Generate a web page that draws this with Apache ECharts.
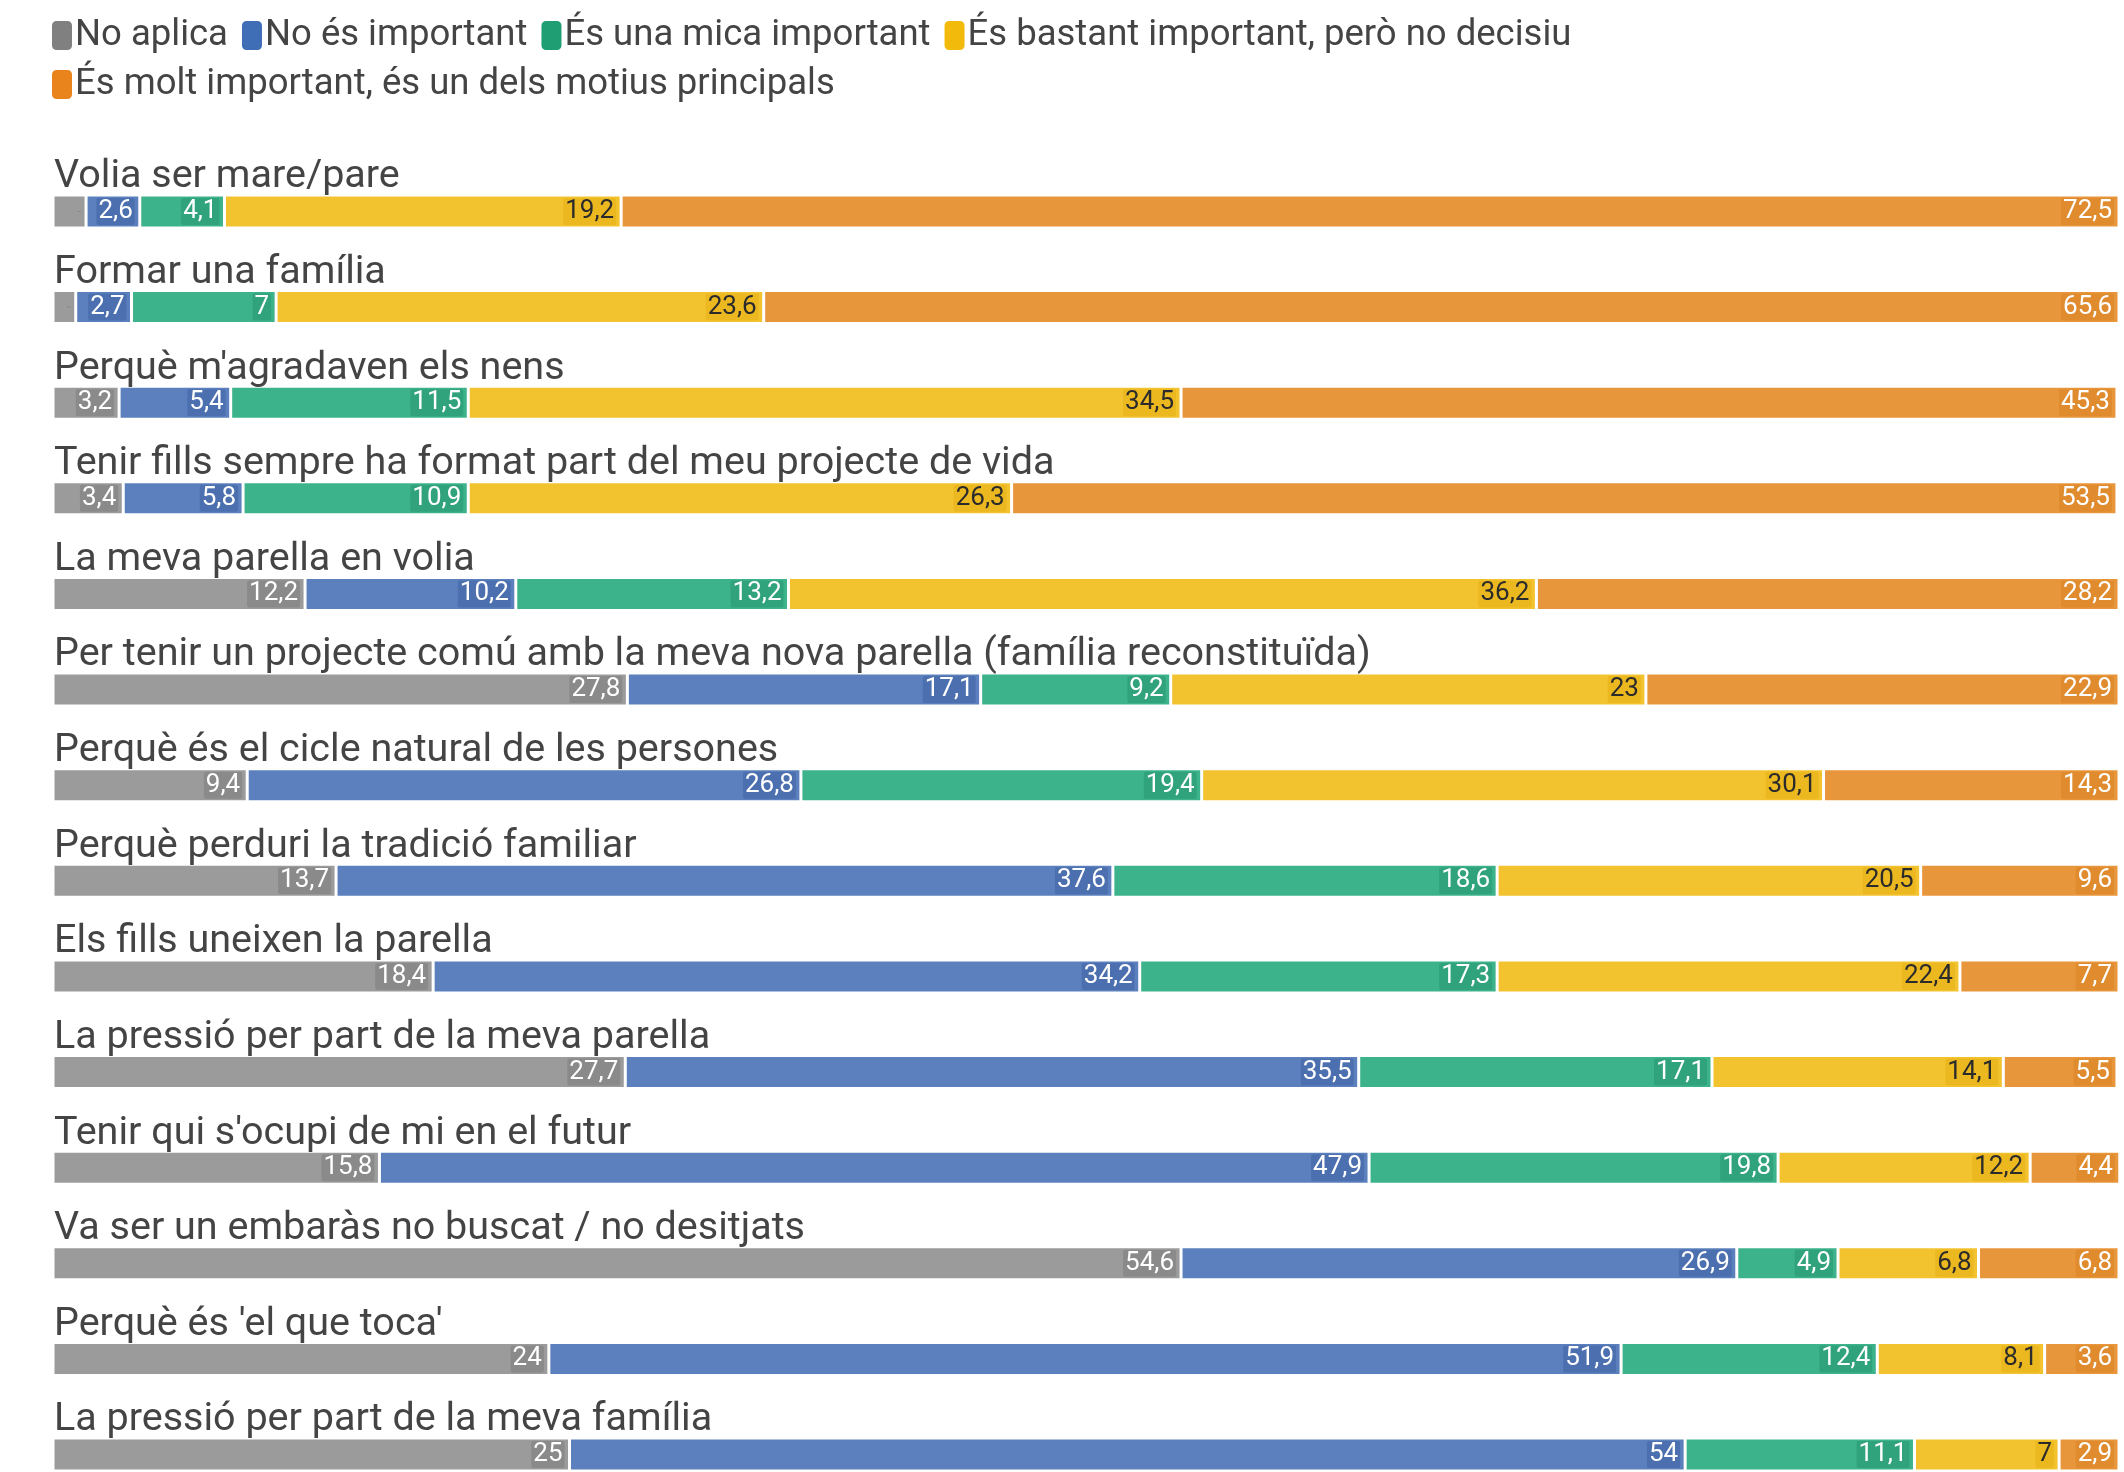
<!DOCTYPE html>
<html>
<head>
<meta charset="utf-8">
<script src="https://cdn.jsdelivr.net/npm/echarts@6/dist/echarts.min.js"></script>
<style>
html,body{margin:0;padding:0;background:#fff;}
#c{width:2124px;height:1472px;}
</style>
</head>
<body>
<div id="c"></div>
<script>
const categories = [
  "Volia ser mare/pare",
  "Formar una família",
  "Perquè m'agradaven els nens",
  "Tenir fills sempre ha format part del meu projecte de vida",
  "La meva parella en volia",
  "Per tenir un projecte comú amb la meva nova parella (família reconstituïda)",
  "Perquè és el cicle natural de les persones",
  "Perquè perduri la tradició familiar",
  "Els fills uneixen la parella",
  "La pressió per part de la meva parella",
  "Tenir qui s'ocupi de mi en el futur",
  "Va ser un embaràs no buscat / no desitjats",
  "Perquè és 'el que toca'",
  "La pressió per part de la meva família"
];
const seriesNames = [
  "No aplica",
  "No és important",
  "És una mica important",
  "És bastant important, però no decisiu",
  "És molt important, és un dels motius principals"
];
const noAplica     = [1.6, 1.1, 3.2, 3.4, 12.2, 27.8, 9.4, 13.7, 18.4, 27.7, 15.8, 54.6, 24, 25];
const noImportant  = [2.6, 2.7, 5.4, 5.8, 10.2, 17.1, 26.8, 37.6, 34.2, 35.5, 47.9, 26.9, 51.9, 54];
const micaImport   = [4.1, 7, 11.5, 10.9, 13.2, 9.2, 19.4, 18.6, 17.3, 17.1, 19.8, 4.9, 12.4, 11.1];
const bastantImp   = [19.2, 23.6, 34.5, 26.3, 36.2, 23, 30.1, 20.5, 22.4, 14.1, 12.2, 6.8, 8.1, 7];
const moltImport   = [72.5, 65.6, 45.3, 53.5, 28.2, 22.9, 14.3, 9.6, 7.7, 5.5, 4.4, 6.8, 3.6, 2.9];

const values = [noAplica, noImportant, micaImport, bastantImp, moltImport];
const barColors = ['#9b9b9b', '#5b80bd', '#3db38c', '#f3c22f', '#e8963b'];
const labelBg   = ['#8a8a8a', '#4c70af', '#30a37d', '#ebb820', '#df8b2e'];
const labelFg   = ['#ffffff', '#ffffff', '#ffffff', '#2b2b2b', '#ffffff'];
const legendColors = ['#808080', '#3f6db6', '#1f9e74', '#f2ba0a', '#e8841b'];

const chart = echarts.init(document.getElementById('c'));
const series = seriesNames.map((name, i) => ({
  name: name,
  type: 'bar',
  stack: 'total',
  barWidth: 33,
  data: values[i],
  itemStyle: { color: barColors[i], borderColor: '#ffffff', borderWidth: 1.5 },
  label: {
    show: true,
    position: 'insideRight',
    distance: 5,
    fontFamily: 'Roboto',
    fontSize: 26,
    color: labelFg[i],
    backgroundColor: labelBg[i],
    padding: [1, 2, 0, 2],
    borderRadius: 2,
    formatter: p => p.value < 2 ? '' : String(p.value).replace('.', ',')
  },
  emphasis: { disabled: true }
}));

chart.setOption({
  animation: false,
  backgroundColor: '#ffffff',
  legend: {
    left: 45,
    top: 12,
    width: 1700,
    icon: 'roundRect',
    itemWidth: 22,
    itemHeight: 31,
    itemGap: 12,
    textStyle: { fontFamily: 'Roboto', fontSize: 36.5, color: '#444', padding: [0, 5, 0, -3] },
    data: seriesNames.map((n, i) => ({ name: n, itemStyle: { color: legendColors[i] } }))
  },
  grid: { left: 53, right: 5, top: 211.5, height: 1243, containLabel: false, outerBoundsMode: 'none' },
  xAxis: { type: 'value', min: 0, max: 100, show: false },
  yAxis: {
    type: 'category',
    inverse: true,
    boundaryGap: false,
    data: categories,
    axisLine: { show: false },
    axisTick: { show: false },
    axisLabel: {
      inside: true,
      interval: 0,
      showMinLabel: true,
      showMaxLabel: true,
      hideOverlap: false,
      margin: 1,
      align: 'left',
      verticalAlign: 'middle',
      formatter: v => '{a|' + v + '}\n{b| }',
      rich: {
        a: { fontFamily: 'Roboto', fontSize: 39.5, lineHeight: 42, color: '#444' },
        b: { fontSize: 10, height: 68, lineHeight: 68 }
      }
    },
    z: 10
  },
  series: series
});
</script>
</body>
</html>
